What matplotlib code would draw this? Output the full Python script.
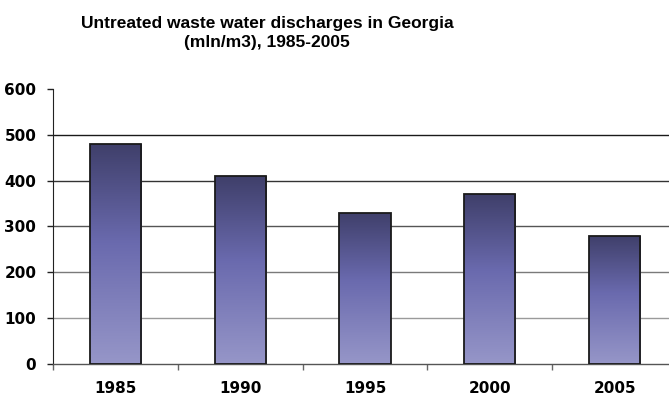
import matplotlib
matplotlib.use("Agg")
import matplotlib.pyplot as plt
import numpy as np
from matplotlib.colors import LinearSegmentedColormap

years = ["1985", "1990", "1995", "2000", "2005"]
values = [480, 410, 330, 370, 280]
yticks = [0, 100, 200, 300, 400, 500, 600]
title = "Untreated waste water discharges in Georgia\n(mln/m3), 1985-2005"

W, H = 669, 397
fig = plt.figure(figsize=(W / 100, H / 100), dpi=100)
ax = fig.add_axes([53 / W, (H - 364) / H, (677 - 53) / W, (364 - 89) / H])

cmap = LinearSegmentedColormap.from_list(
    "bar", [(0.0, "#9696C8"), (0.55, "#6A6AAE"), (1.0, "#3F3F6A")])

x = np.arange(len(years))
bars = ax.bar(x, values, width=0.41, facecolor="none", edgecolor="#1a1a1a",
              linewidth=1.3, zorder=3)
grad = np.linspace(0, 1, 256).reshape(-1, 1)
for b in bars:
    x0, y0 = b.get_x(), b.get_y()
    w, h = b.get_width(), b.get_height()
    im = ax.imshow(grad, extent=[x0, x0 + w, y0, y0 + h], origin="lower",
                   aspect="auto", cmap=cmap, zorder=2)
    im.set_clip_path(b)

ax.set_xlim(-0.5, len(years) - 0.5)
ax.set_ylim(0, 600)

grid_colors = {100: "#9a9a9a", 200: "#7a7a7a", 300: "#555555", 400: "#333333", 500: "#1a1a1a"}
for v, c in grid_colors.items():
    ax.axhline(v, color=c, linewidth=1.0, zorder=1)

for s in ["top", "right"]:
    ax.spines[s].set_visible(False)
ax.spines["left"].set_color("#222222")
ax.spines["bottom"].set_color("#555555")
ax.spines["bottom"].set_linewidth(1.0)

ax.set_yticks(yticks)
ax.set_yticklabels([str(v) for v in yticks])
ax.tick_params(axis="y", direction="out", length=4, width=1, color="#222222",
               labelsize=11, pad=8)
ax.set_xticks(np.arange(len(years) + 1) - 0.5)
ax.set_xticklabels([""] * (len(years) + 1))
ax.tick_params(axis="x", which="major", direction="out", length=4, width=1, color="#666666")
ax.set_xticks(x, minor=True)
ax.set_xticklabels(years, minor=True)
ax.tick_params(axis="x", which="minor", length=0, labelsize=11, pad=12)
for lab in ax.get_yticklabels() + ax.get_xticklabels(minor=True):
    lab.set_fontweight("bold")
    lab.set_family("DejaVu Sans")

fig.text(267 / W, 1 - 33 / H, title, ha="center", va="center",
         fontsize=12.5, fontweight="bold", family="Liberation Sans", linespacing=1.3)

fig.savefig("out.png", dpi=100)
